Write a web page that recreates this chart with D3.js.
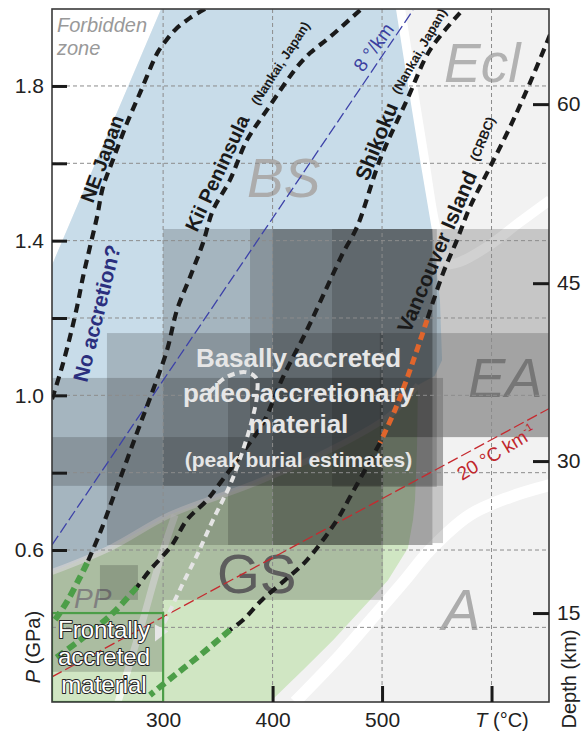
<!DOCTYPE html>
<html>
<head>
<meta charset="utf-8">
<script src="https://cdn.jsdelivr.net/npm/d3@7"></script>
<style>
  html, body { margin: 0; padding: 0; background: #fff; }
  svg { display: block; }
</style>
</head>
<body>
<div id="chart"></div>
<script>
// ---- axes ----
const GRID_T  = [300, 400, 500, 600];
const GRID_P  = [0.4, 0.6, 0.8, 1.0, 1.2, 1.4, 1.6, 1.8];
const TICK_T  = [400, 500, 600];
const LABEL_T = [300, 400, 500];
const TICK_P  = [0.6, 0.8, 1.0, 1.2, 1.4, 1.6, 1.8];
const LABEL_P = [0.6, 1.0, 1.4, 1.8];
const DEPTH_KM = [15, 30, 45, 60];
const DEPTH_P  = [0.437, 0.830, 1.290, 1.753];   // pressure at each depth tick

// ---- facies fields [T °C, P GPa] ----
const LIGHT_ZONE = [[198.5,0.207],[198.5,1.337],[298.1,1.999],[653.4,1.999],[653.4,0.207]];
const BS_ZONE = [[198.5,1.337],[298.1,1.999],[512.7,1.999],[523.7,1.802],[534.7,1.609],[545.6,1.427],
  [552.9,1.246],[554.8,1.091],[548,1.05],[532.8,1.027],[507.3,0.949],[452.5,0.859],[379.4,0.768],
  [306.3,0.691],[251.5,0.605],[198.5,0.543]];
const GS_ZONE = [[198.5,0.543],[251.5,0.605],[306.3,0.691],[379.4,0.768],[452.5,0.859],[507.3,0.949],
  [532.8,1.027],[531.9,0.859],[530.1,0.729],[528.3,0.678],[523.7,0.605],[505.4,0.522],[489.0,0.471],
  [455.2,0.367],[427.8,0.290],[397.6,0.207],[198.5,0.207]];
const BAND_BS_ECL = [[512.7,2.0],[523.7,1.802],[534.7,1.609],[545.6,1.427],[557.5,1.337]];
const BAND_ECL_EA = [[557.5,1.337],[571.2,1.345],[598.6,1.389],[626.0,1.448],[653.4,1.505]];
const BAND_GS_A   = [[420.5,0.207],[461.6,0.328],[493.6,0.432],[521.0,0.522],[543.8,0.600],
  [580.3,0.691],[616.9,0.737],[653.4,0.768]];
const BAND_BS_GS  = [[198.5,0.543],[251.5,0.605],[306.3,0.691],[379.4,0.768],[452.5,0.859],[507.3,0.949],[532.8,1.027]];
const BAND_PP_GS  = [[258.8,0.207],[278.9,0.393],[297.2,0.574],[310.9,0.691]];

// ---- peak burial estimates [Tmin, Tmax, Pmin, Pmax] ----
const BURIAL_BOXES = [
  [300, 546, 0.613, 1.430],
  [379.4, 653.4, 0.892, 1.430],
  [400, 546, 0.613, 1.430],
  [454.3, 550, 0.763, 1.430],
  [248.7, 500.9, 0.613, 1.161],
  [498, 653.4, 0.892, 1.161],
  [198.5, 555.7, 0.766, 1.045],
  [198.5, 500.9, 0.766, 0.892],
  [359.3, 500.9, 0.613, 1.045],
  [300, 500.9, 0.471, 0.613],
  [198.5, 300, 0.285, 0.613],
  [242.3, 277, 0.471, 0.561],
  [546, 555.7, 0.618, 0.892],
  [198.5, 300, 0.613, 0.766]
];
const FRONTAL_BOX = [198.5, 300, 0.207, 0.437];

// ---- geotherms ----
const NE_JAPAN = [[338.3,1.999],[324.6,1.976],[310.9,1.945],[301.7,1.914],[295.3,1.888],[290.8,1.862],
  [278.9,1.782],[267.0,1.704],[254.2,1.609],[245.1,1.539],[239.6,1.461],[233.2,1.384],[226.8,1.306],
  [221.3,1.228],[214.9,1.151],[207.6,1.073],[201.2,1.014],[198.5,0.99]];
const KII = [[479.9,1.996],[452.5,1.927],[434.2,1.885],[422.3,1.849],[394.9,1.738],[376.6,1.660],
  [361.1,1.557],[345.6,1.479],[336.4,1.394],[324.6,1.306],[312.7,1.221],[303.6,1.117],[290.8,1.014],
  [276.1,0.903],[257.9,0.763],[242.3,0.644],[230.5,0.566]];
const KII_FRONTAL = [[230.5,0.566],[224.1,0.530],[213.1,0.471],[203.1,0.427],[198.5,0.41]];
const SHIKOKU = [[571.2,1.989],[543.8,1.893],[522.8,1.764],[498.1,1.609],[477.1,1.435],[464.3,1.368],
  [449.7,1.280],[431.4,1.169],[409.5,1.047],[391.2,0.928],[373.0,0.853],[352.0,0.773],[340.1,0.729],
  [321.8,0.678],[308.1,0.613],[288.0,0.548],[276.1,0.504]];
const SHIKOKU_FRONTAL = [[276.1,0.504],[254.2,0.437],[224.1,0.367],[199.4,0.316]];
const VANCOUVER_HIGH = [[653.4,1.932],[635.1,1.808],[616.9,1.694],[598.6,1.590],[580.3,1.487],
  [568.5,1.402],[555.7,1.316],[541.1,1.195]];
const VANCOUVER_PEAK = [[541.1,1.195],[525.5,1.065],[511.8,0.962],[498.1,0.877]];
const VANCOUVER_LOW = [[498.1,0.877],[484.4,0.807],[470.7,0.737],[458.9,0.678],[431.4,0.574],
  [411.3,0.522],[390.3,0.471],[373.0,0.419],[361.1,0.393]];
const VANCOUVER_FRONTAL = [[361.1,0.393],[333.7,0.328],[310.9,0.277],[288.0,0.225]];
const BURIAL_PATH = [[342.8,1.009],[356.5,1.045],[374.8,1.060],[384.9,1.045],[385.8,1.001],
  [381.2,0.936],[373.0,0.859],[361.1,0.768],[345.6,0.678],[331.0,0.587],[317.3,0.509],[304.5,0.432],[298.1,0.395]];
const GRADIENT_8  = [[198.5,0.613],[528.3,1.996]];
const GRADIENT_20 = [[198.5,0.272],[653.4,0.967]];

const W = 584, H = 734;
const PLOT = { left: 52, right: 549, top: 9, bottom: 702 };
const FONT = '"Liberation Sans", Arial, Helvetica, sans-serif';
const INK = "#1a1a1a";

const x = d3.scaleLinear().domain([198.5, 652.5]).range([PLOT.left, PLOT.right]);
const y = d3.scaleLinear().domain([0.207, 1.999]).range([PLOT.bottom, PLOT.top]);
const yDepth = d3.scaleLinear().domain(DEPTH_KM).range(DEPTH_P.map(y));

const area   = d3.line().x(d => x(d[0])).y(d => y(d[1])).curve(d3.curveLinearClosed);
const smooth = d3.line().x(d => x(d[0])).y(d => y(d[1])).curve(d3.curveCatmullRom.alpha(0.5));
const plain  = d3.line().x(d => x(d[0])).y(d => y(d[1]));

const svg = d3.select("#chart").append("svg")
  .attr("width", W).attr("height", H)
  .style("font-family", FONT);

const defs = svg.append("defs");
defs.append("clipPath").attr("id", "plot-clip")
  .append("rect")
  .attr("x", PLOT.left).attr("y", PLOT.top)
  .attr("width", PLOT.right - PLOT.left).attr("height", PLOT.bottom - PLOT.top);
defs.append("marker")
  .attr("id", "arrow").attr("viewBox", "0 0 10 10")
  .attr("refX", 1).attr("refY", 5)
  .attr("markerWidth", 17).attr("markerHeight", 15)
  .attr("markerUnits", "userSpaceOnUse").attr("orient", "auto")
  .append("path").attr("d", "M0,0L10,5L0,10Z").attr("fill", "#e6e6e6");

const plot = svg.append("g").attr("clip-path", "url(#plot-clip)");

// Facies fields
plot.append("rect")
  .attr("x", PLOT.left).attr("y", PLOT.top)
  .attr("width", PLOT.right - PLOT.left).attr("height", PLOT.bottom - PLOT.top)
  .attr("fill", "#fff");
plot.append("path").attr("d", area(LIGHT_ZONE)).attr("fill", "#f2f2f2");

[[BAND_BS_ECL, 18], [BAND_ECL_EA, 10], [BAND_GS_A, 12]].forEach(([pts, w]) => {
  plot.append("path").attr("d", smooth(pts))
    .attr("fill", "none").attr("stroke", "#fff").attr("stroke-width", w);
});

plot.append("path").attr("d", area(BS_ZONE)).attr("fill", "#c8dce9");
plot.append("path").attr("d", area(GS_ZONE)).attr("fill", "#d0e6c3");

plot.append("path").attr("d", smooth(BAND_BS_GS))
  .attr("fill", "none").attr("stroke", "#fff").attr("stroke-width", 6).attr("opacity", 0.75);
plot.append("path").attr("d", smooth(BAND_PP_GS))
  .attr("fill", "none").attr("stroke", "#fff").attr("stroke-width", 7).attr("opacity", 0.7);

// Facies names
const facies = [
  { t: "BS",  px: 247, py: 197, size: 55, italic: true,  fill: "#acacac" },
  { t: "Ecl", px: 444, py: 82,  size: 55, italic: true,  fill: "#b2b2b2" },
  { t: "EA",  px: 468, py: 397, size: 56, italic: true,  fill: "#acacac" },
  { t: "A",   px: 442, py: 630, size: 58, italic: true,  fill: "#acacac" },
  { t: "GS",  px: 217, py: 593, size: 55, italic: false, fill: "#6e6e6e" },
  { t: "PP",  px: 74,  py: 608, size: 28, italic: true,  fill: "#9a9a9a" }
];
plot.selectAll(".facies").data(facies).enter().append("text")
  .attr("class", "facies")
  .attr("x", d => d.px).attr("y", d => d.py)
  .attr("font-size", d => d.size)
  .attr("font-style", d => d.italic ? "italic" : "normal")
  .attr("fill", d => d.fill)
  .text(d => d.t);

// Peak burial boxes
plot.selectAll(".burial").data(BURIAL_BOXES).enter().append("rect")
  .attr("class", "burial")
  .attr("x", d => x(d[0]))
  .attr("y", d => y(d[3]))
  .attr("width", d => x(d[1]) - x(d[0]))
  .attr("height", d => y(d[2]) - y(d[3]))
  .attr("fill", INK).attr("fill-opacity", 0.2);

// Grid
plot.selectAll(".grid-t").data(GRID_T).enter().append("line")
  .attr("x1", d => x(d)).attr("x2", d => x(d))
  .attr("y1", PLOT.top).attr("y2", PLOT.bottom)
  .attr("stroke", "#8c8c8c").attr("stroke-width", 1).attr("stroke-dasharray", "4,3");
plot.selectAll(".grid-p").data(GRID_P).enter().append("line")
  .attr("x1", PLOT.left).attr("x2", PLOT.right)
  .attr("y1", d => y(d)).attr("y2", d => y(d))
  .attr("stroke", "#8c8c8c").attr("stroke-width", 1).attr("stroke-dasharray", "4,3");

// Geothermal gradients
plot.append("path").attr("d", plain(GRADIENT_8))
  .attr("fill", "none").attr("stroke", "#3d42a8").attr("stroke-width", 1.3).attr("stroke-dasharray", "11,4");
plot.append("path").attr("d", plain(GRADIENT_20))
  .attr("fill", "none").attr("stroke", "#c62a2f").attr("stroke-width", 1.3).attr("stroke-dasharray", "11,4");

// Subduction geotherms
function dashed(pts, color, width, dash) {
  plot.append("path").attr("d", smooth(pts))
    .attr("fill", "none").attr("stroke", color)
    .attr("stroke-width", width).attr("stroke-dasharray", dash);
}
dashed(NE_JAPAN, INK, 4.2, "9,6");
dashed(KII, INK, 4.2, "9,6");
dashed(SHIKOKU, INK, 4.2, "9,6");
dashed(VANCOUVER_HIGH, INK, 4.2, "9,6");
dashed(VANCOUVER_LOW, INK, 4.2, "9,6");
dashed(VANCOUVER_PEAK, "#e0652c", 5, "8,5");
dashed(KII_FRONTAL, "#4c9e48", 6, "9,5");
dashed(SHIKOKU_FRONTAL, "#4c9e48", 6, "9,5");
dashed(VANCOUVER_FRONTAL, "#4c9e48", 6, "9,5");

// Burial–exhumation path
plot.append("path").attr("d", smooth(BURIAL_PATH))
  .attr("fill", "none").attr("stroke", "#e4e4e4")
  .attr("stroke-width", 4).attr("stroke-dasharray", "7,5")
  .attr("marker-end", "url(#arrow)");

// Frontally accreted box
plot.append("rect")
  .attr("x", x(FRONTAL_BOX[0])).attr("y", y(FRONTAL_BOX[3]))
  .attr("width", x(FRONTAL_BOX[1]) - x(FRONTAL_BOX[0]))
  .attr("height", y(FRONTAL_BOX[2]) - y(FRONTAL_BOX[3]))
  .attr("fill", "none").attr("stroke", "#4c9e48").attr("stroke-width", 2.2);

// Annotations
const notes = svg.append("g");
function rotText(px, py, angle, size, fill, weight) {
  return notes.append("text")
    .attr("transform", `translate(${px},${py}) rotate(${angle})`)
    .attr("font-size", size).attr("fill", fill).attr("font-weight", weight || "normal");
}
rotText(93, 204, -70, 20, INK, "bold").text("NE Japan");
rotText(87, 383, -76, 21, "#2b2f7e", "bold").text("No accretion?");
rotText(197, 233, -65, 20, INK, "bold").text("Kii Peninsula");
rotText(258, 106, -57, 13, INK, "bold").text("(Nankai, Japan)");
rotText(368, 182, -68, 21, INK, "bold").text("Shikoku");
rotText(399, 95, -60, 13, INK, "bold").text("(Nankai, Japan)");
rotText(410, 334, -67, 21, INK, "bold").text("Vancouver Island");
rotText(478, 162, -68, 13, INK, "bold").text("(CRBC)");
rotText(363, 73, -54, 19, "#3a3fa0").text("8 °/km");
const g20 = rotText(462, 481, -31, 19, "#c0272d");
g20.append("tspan").text("20 °C km");
g20.append("tspan").attr("font-size", 11).attr("dy", -8).text("-1");

notes.append("text").attr("x", 57).attr("y", 32).attr("font-size", 20)
  .attr("font-style", "italic").attr("fill", "#999").text("Forbidden");
notes.append("text").attr("x", 57).attr("y", 55).attr("font-size", 20)
  .attr("font-style", "italic").attr("fill", "#999").text("zone");

const basal = ["Basally accreted", "paleo-accretionary", "material"];
const basalY = [367, 402, 433];
notes.selectAll(".basal").data(basal).enter().append("text")
  .attr("x", 298.5).attr("y", (d, i) => basalY[i])
  .attr("text-anchor", "middle").attr("font-size", 26).attr("font-weight", "bold")
  .attr("fill", "#e6e6e6").text(d => d);
notes.append("text").attr("x", 298.5).attr("y", 467)
  .attr("text-anchor", "middle").attr("font-size", 21).attr("font-weight", "bold")
  .attr("fill", "#e6e6e6").text("(peak burial estimates)");

const frontal = ["Frontally", "accreted", "material"];
const frontalY = [638, 665, 693];
notes.selectAll(".frontal").data(frontal).enter().append("text")
  .attr("x", 104).attr("y", (d, i) => frontalY[i])
  .attr("text-anchor", "middle").attr("font-size", 24)
  .attr("fill", "#fff").attr("stroke", "#222").attr("stroke-width", 2)
  .attr("paint-order", "stroke").attr("stroke-linejoin", "round")
  .text(d => d);

// Frame
svg.append("rect")
  .attr("x", PLOT.left).attr("y", PLOT.top)
  .attr("width", PLOT.right - PLOT.left).attr("height", PLOT.bottom - PLOT.top)
  .attr("fill", "none").attr("stroke", "#3a3a3a").attr("stroke-width", 1.6);

// Axes
function styleAxis(g) {
  g.select(".domain").remove();
  g.attr("font-family", null).attr("font-size", 21);
  g.selectAll(".tick line").attr("stroke", INK).attr("stroke-width", 3);
  g.selectAll(".tick text").attr("fill", "#222");
}
svg.append("g")
  .attr("transform", `translate(${PLOT.left},0)`)
  .call(d3.axisLeft(y).tickValues(TICK_P).tickSize(-15).tickPadding(8)
    .tickFormat(d => LABEL_P.some(v => Math.abs(v - d) < 1e-6) ? d3.format(".1f")(d) : ""))
  .call(styleAxis);

svg.append("g")
  .attr("transform", `translate(0,${PLOT.bottom})`)
  .call(d3.axisBottom(x).tickValues(TICK_T).tickSize(-16).tickFormat(""))
  .call(styleAxis);
svg.append("g")
  .attr("transform", `translate(0,${PLOT.bottom})`)
  .call(d3.axisBottom(x).tickValues(LABEL_T).tickSize(0).tickPadding(10))
  .call(styleAxis);

svg.append("g")
  .attr("transform", `translate(${PLOT.right},0)`)
  .call(d3.axisRight(yDepth).tickValues(DEPTH_KM).tickSize(-16).tickPadding(8))
  .call(styleAxis);

// Axis titles
const pTitle = svg.append("text")
  .attr("transform", "translate(40,647) rotate(-90)")
  .attr("text-anchor", "middle").attr("font-size", 20).attr("fill", "#222");
pTitle.append("tspan").attr("font-style", "italic").text("P");
pTitle.append("tspan").text(" (GPa)");

const tTitle = svg.append("text")
  .attr("x", 502).attr("y", 727)
  .attr("text-anchor", "middle").attr("font-size", 20).attr("fill", "#222");
tTitle.append("tspan").attr("font-style", "italic").text("T");
tTitle.append("tspan").text(" (°C)");

svg.append("text")
  .attr("transform", "translate(576,679) rotate(-90)")
  .attr("text-anchor", "middle").attr("font-size", 20).attr("fill", "#222")
  .text("Depth (km)");
</script>
</body>
</html>
